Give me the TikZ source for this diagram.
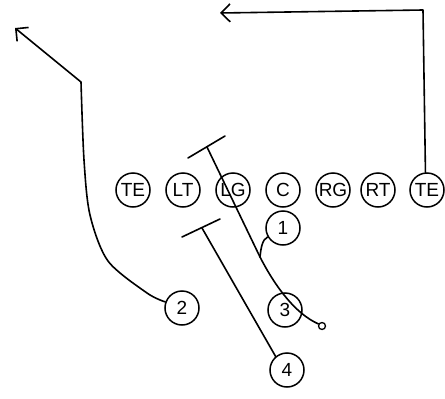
\documentclass[tikz,border=0pt]{standalone}
\usepackage{fontspec}
\setmainfont{Liberation Sans}
\usetikzlibrary{arrows.meta}
\begin{document}
\begin{tikzpicture}[x=1pt,y=-1pt,
  player/.style={draw,circle,line width=1.5pt,minimum size=34pt,inner sep=0pt,font=\fontsize{19}{19}\selectfont},
  route/.style={line width=1.6pt,line join=round,line cap=round},
  barb/.style={-{Straight Barb[length=9pt,width=18pt,line width=1.6pt]}}]
\useasboundingbox (0,0) rectangle (445,399);
% offensive line
\node[player] (TEl) at (133,190) {TE};
\node[player] (LT) at (183,190) {LT};
\node[player] (LG) at (233,190) {LG};
\node[player] (C) at (283,190) {C};
\node[player] (RG) at (333,190) {RG};
\node[player] (RT) at (378,190) {RT};
\node[player] (TEr) at (427,190) {TE};
% backs / receivers
\node[player] (one) at (283,228) {1};
\node[player] (two) at (182,308) {2};
\node[player] (three) at (285,310) {3};
\node[player] (four) at (287,370) {4};
\node[draw,circle,line width=1.3pt,minimum size=7pt,inner sep=0pt] (ball) at (322,326) {};
% coordinates
\coordinate (T1) at (207,147);
\coordinate (T1a) at (188,158);
\coordinate (T1b) at (225,136);
\coordinate (T2) at (202,228);
\coordinate (T2a) at (182,237);
\coordinate (T2b) at (220,219);
\coordinate (m1) at (260,257);
\coordinate (c2) at (81,82);
\coordinate (tip2) at (15,28);
\coordinate (cR) at (423,10);
\coordinate (tipR) at (220,13);
% TE right route
\draw[route,barb] (TEr.95) -- (cR) -- (tipR);
% 2 route
\draw[route,barb] plot[smooth,tension=0.5] coordinates {(two.160) (147,293) (108,261) (90,215) (84,160) (c2)} -- (tip2);
% blocks
\draw[route] (T1a) -- (T1b);
\draw[route] (T2a) -- (T2b);
\draw[route] (T1) -- (m1) .. controls (276,288) and (296,314) .. (ball.150);
\draw[route] (one.210) .. controls (262,240) and (261,248) .. (m1);
\draw[route] (four.130) -- (T2);
\end{tikzpicture}
\end{document}
